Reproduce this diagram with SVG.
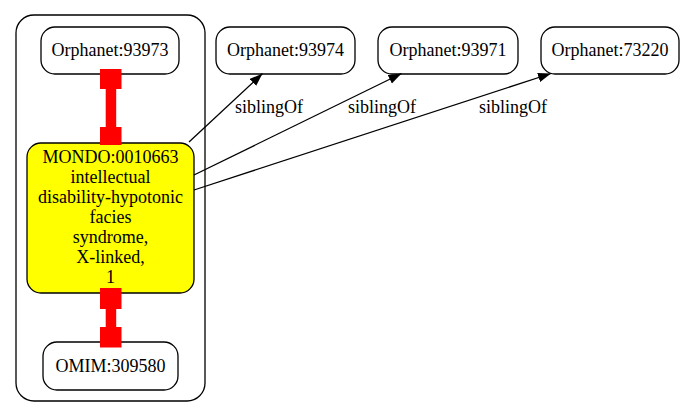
<svg xmlns="http://www.w3.org/2000/svg" width="685" height="417" viewBox="0 0 685 417">
<defs>
<style>
.node rect{fill:#fff;stroke:#000;stroke-width:1.3}
.node.mondo rect{fill:#ffff00}
text{font-family:"Liberation Serif","Times New Roman",serif;font-size:18px;fill:#000;text-anchor:middle}
.edge{fill:none;stroke:#000;stroke-width:1.3}
.red{fill:#ff0000}
</style>
<marker id="arr" markerUnits="userSpaceOnUse" markerWidth="14" markerHeight="10" refX="13" refY="4.7" orient="auto">
<polygon points="0,0 13,4.7 0,9.4" fill="#000"/>
</marker>
</defs>
<rect width="685" height="417" fill="#fff"/>
<g id="cluster">
<rect x="16" y="15" width="189" height="386" rx="18" fill="none" stroke="#000" stroke-width="1.3"/>
</g>
<g id="n_93973" class="node"><rect x="41" y="27" width="138" height="47" rx="14"/><text x="110" y="56">Orphanet:93973</text></g>
<g id="n_mondo" class="node mondo"><rect x="27" y="143" width="167" height="150" rx="14"/>
<text x="110.5" y="163">MONDO:0010663</text>
<text x="110.5" y="183">intellectual</text>
<text x="110.5" y="203">disability-hypotonic</text>
<text x="110.5" y="223">facies</text>
<text x="110.5" y="243">syndrome,</text>
<text x="110.5" y="263">X-linked,</text>
<text x="110.5" y="283">1</text>
</g>
<g id="n_omim" class="node"><rect x="43" y="342" width="135" height="48" rx="14"/><text x="110.5" y="372">OMIM:309580</text></g>
<g id="n_93974" class="node"><rect x="216" y="27" width="139" height="47" rx="14"/><text x="285.5" y="56">Orphanet:93974</text></g>
<g id="n_93971" class="node"><rect x="378" y="27" width="140" height="47" rx="14"/><text x="448" y="56">Orphanet:93971</text></g>
<g id="n_73220" class="node"><rect x="541" y="27" width="138" height="47" rx="14"/><text x="610" y="56">Orphanet:73220</text></g>
<g id="connectors">
<g class="red">
<rect x="100" y="69" width="21.5" height="20"/>
<rect x="105.7" y="88" width="10.5" height="40"/>
<rect x="100" y="127" width="21.5" height="18"/>
<rect x="100" y="288" width="21.5" height="21"/>
<rect x="105.7" y="308" width="10.5" height="20"/>
<rect x="100" y="327" width="21.5" height="20.5"/>
</g>
<path class="edge" d="M189,142 L262.5,73.5" marker-end="url(#arr)"/>
<path class="edge" d="M194,175 L401.5,73.5" marker-end="url(#arr)"/>
<path class="edge" d="M194,190 L551,73.5" marker-end="url(#arr)"/>
<text x="269" y="113">siblingOf</text>
<text x="382" y="113">siblingOf</text>
<text x="513" y="113">siblingOf</text>
</g>
</svg>
